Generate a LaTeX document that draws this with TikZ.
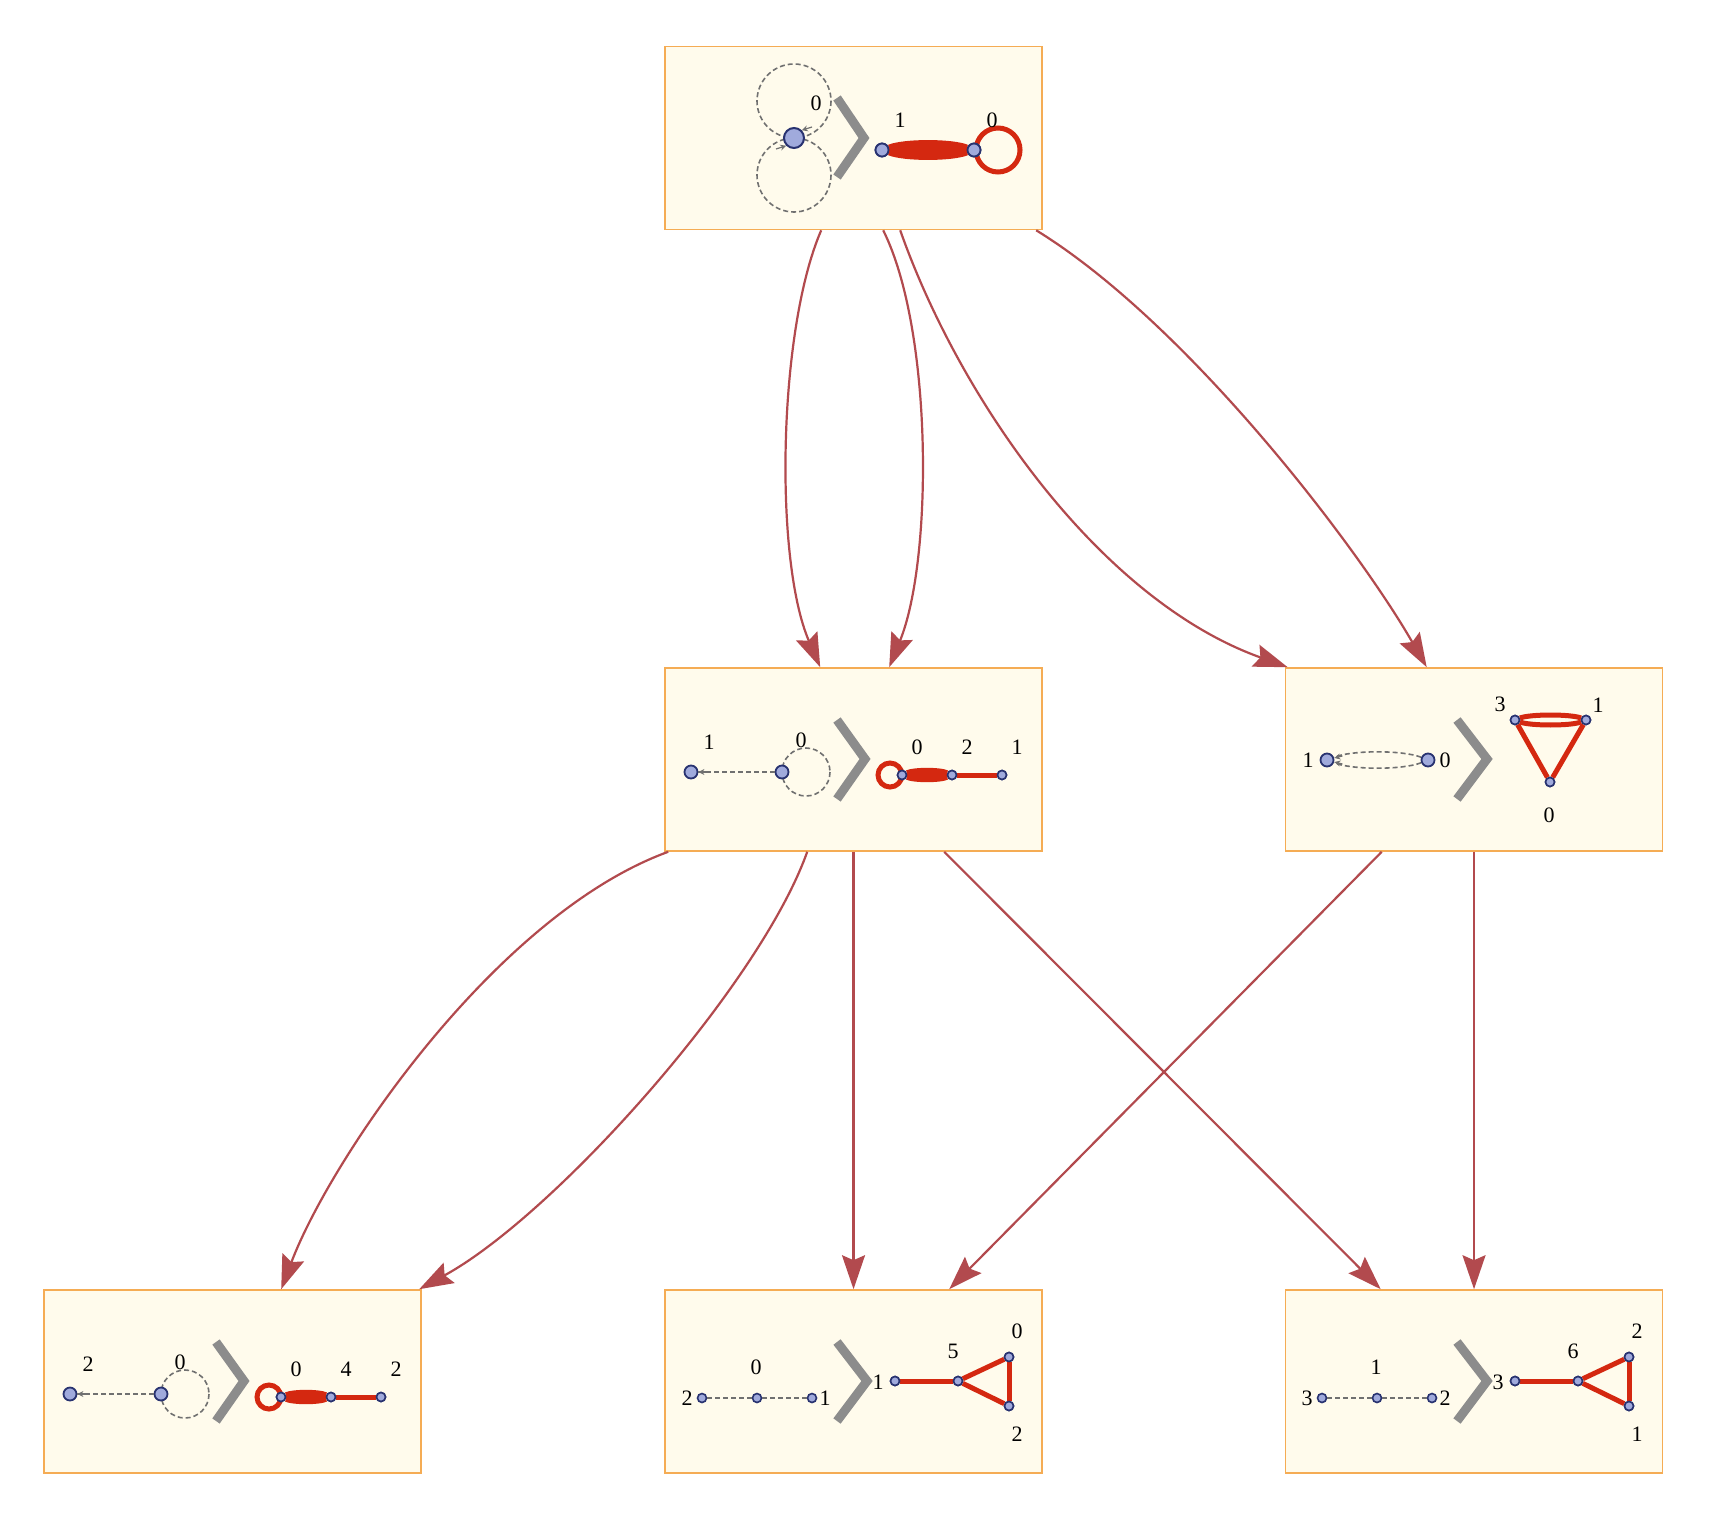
\documentclass[tikz,border=0pt]{standalone}
\usepackage{fontspec}
\setmainfont{Liberation Serif}
\usetikzlibrary{arrows.meta,calc}
\definecolor{boxfill}{RGB}{255,251,236}
\definecolor{boxline}{RGB}{245,172,84}
\definecolor{arrc}{RGB}{178,74,78}
\definecolor{redge}{RGB}{212,40,16}
\definecolor{vfill}{RGB}{160,170,220}
\definecolor{vline}{RGB}{40,50,112}
\definecolor{dgray}{RGB}{112,112,112}
\definecolor{chevc}{RGB}{140,140,140}

% left-type panel: dashed path with loop > red loop, bundle, edge
\newcommand{\LeftPanel}[6]{%
  \draw[dsh] (141,104) circle (24);
  \node[vbig] (#1a) at (26,104) {};
  \node[vbig] (#1b) at (117,104) {};
  \draw[dsh] (#1b) -- (#1a);
  \draw[tipg] ([xshift=8pt]#1a.east) -- (#1a.east);
  \node[lbl] at (44,74) {#2};
  \node[lbl] at (136,72) {#3};
  \draw[chevron] (172,52) -- (200,91) -- (172,131);
  \draw[redg] (225,107) circle (12);
  \node[vsmall] (#1c) at (237,107) {};
  \node[vsmall] (#1d) at (287,107) {};
  \node[vsmall] (#1e) at (337,107) {};
  \draw[redg] (#1c) .. controls +(12,-5.5) and +(-12,-5.5) .. (#1d);
  \draw[redg] (#1c) .. controls +(12,5.5) and +(-12,5.5) .. (#1d);
  \draw[redg] (#1c) -- (#1d);
  \draw[redg] (#1d) -- (#1e);
  \node[vsmall] at (#1c) {};
  \node[vsmall] at (#1d) {};
  \node[vsmall] at (#1e) {};
  \node[lbl] at (252,79) {#4};
  \node[lbl] at (302,79) {#5};
  \node[lbl] at (352,79) {#6};
}

% right-type panel: dashed path > tadpole triangle
\newcommand{\TriPanel}[8]{%
  \node[vsmall] (#1a) at (37,108) {};
  \node[vsmall] (#1b) at (92,108) {};
  \node[vsmall] (#1c) at (147,108) {};
  \draw[dsh] (#1a) -- (#1b);
  \draw[dsh] (#1b) -- (#1c);
  \node[lbl] at (22,108) {#2};
  \node[lbl] at (91,77) {#3};
  \node[lbl] at (160,108) {#4};
  \draw[chevron] (172,52) -- (202,91) -- (172,131);
  \node[vsmall] (#1p) at (230,91) {};
  \node[vsmall] (#1q) at (293,91) {};
  \node[vsmall] (#1r) at (344,67) {};
  \node[vsmall] (#1s) at (344,116) {};
  \draw[redg] (#1p) -- (#1q);
  \draw[redg] (#1q) -- (#1r);
  \draw[redg] (#1q) -- (#1s);
  \draw[redg] (#1r) -- (#1s);
  \node[vsmall] at (#1p) {};
  \node[vsmall] at (#1q) {};
  \node[vsmall] at (#1r) {};
  \node[vsmall] at (#1s) {};
  \node[lbl] at (213,92) {#5};
  \node[lbl] at (288,61) {#6};
  \node[lbl] at (352,41) {#7};
  \node[lbl] at (352,144) {#8};
}

\begin{document}
\begin{tikzpicture}[x=1pt,y=-1pt,
  box/.style={draw=boxline, fill=boxfill, line width=1.6pt, minimum width=377pt, minimum height=183pt, inner sep=0pt},
  conn/.style={draw=arrc, line width=2.2pt, -{Stealth[length=34pt,width=23pt,inset=5pt]}},
  vbig/.style={circle, draw=vline, fill=vfill, line width=1.8pt, minimum size=13pt, inner sep=0pt},
  vmid/.style={circle, draw=vline, fill=vfill, line width=2pt, minimum size=20pt, inner sep=0pt},
  vsmall/.style={circle, draw=vline, fill=vfill, line width=1.6pt, minimum size=9pt, inner sep=0pt},
  dsh/.style={draw=dgray, line width=1.6pt, dash pattern=on 5pt off 3pt},
  tipg/.style={draw=dgray, line width=1.2pt, -{Stealth[length=6pt,width=6pt]}},
  redg/.style={draw=redge, line width=5pt},
  chevron/.style={draw=chevc, line width=9pt, line join=miter, line cap=butt},
  lbl/.style={font=\fontsize{22}{24}\selectfont, inner sep=0pt}
]
\useasboundingbox[fill=white] (0,0) rectangle (1712,1517);

% boxes
\node[box] (T)  at (853.5,138) {};
\node[box] (ML) at (853.5,759.5) {};
\node[box] (MR) at (1474,759.5) {};
\node[box] (BL) at (232.5,1381.5) {};
\node[box] (BM) at (853.5,1381.5) {};
\node[box] (BR) at (1474,1381.5) {};

% connectors
\draw[conn] ([xshift=157pt]T.south west) .. controls (778,330) and (774,560) .. ([xshift=156pt]ML.north west);
\draw[conn] ([xshift=219pt]T.south west) .. controls (933,330) and (933,560) .. ([xshift=225pt]ML.north west);
\draw[conn] ([xshift=236pt]T.south west) .. controls (960,400) and (1100,600) .. ([xshift=3pt]MR.north west);
\draw[conn] ([xshift=372pt]T.south west) .. controls (1187,323) and (1357,546) .. ([xshift=142pt]MR.north west);
\draw[conn] ([xshift=4pt]ML.south west) .. controls (495,915) and (330,1160) .. ([xshift=238pt]BL.north west);
\draw[conn] ([xshift=143pt]ML.south west) .. controls (760,985) and (555,1215) .. ([xshift=376pt]BL.north west);
\draw[conn] (ML.south) -- (BM.north);
\draw[conn] ([xshift=280pt]ML.south west) -- ([xshift=96pt]BR.north west);
\draw[conn] ([xshift=97pt]MR.south west) -- ([xshift=285pt]BM.north west);
\draw[conn] (MR.south) -- (BR.north);

% top box content
\begin{scope}[shift={(665,46)}]
  \draw[dsh] (129,55) circle (37);
  \draw[dsh] (129,129) circle (37);
  \node[vmid] (ta) at (129,92) {};
  \draw[tipg] (147,81) -- (ta.north east);
  \draw[tipg] (111,103) -- (ta.south west);
  \node[lbl] at (151,57) {0};
  \draw[chevron] (172,52) -- (199,92) -- (172,131);
  \draw[redg] (333,104) circle (22);
  \node[vbig] (tb) at (217,104) {};
  \node[vbig] (tc) at (309,104) {};
  \draw[redg] (tb) .. controls +(22,-9) and +(-22,-9) .. (tc);
  \draw[redg] (tb) .. controls +(22,-4.5) and +(-22,-4.5) .. (tc);
  \draw[redg] (tb) -- (tc);
  \draw[redg] (tb) .. controls +(22,4.5) and +(-22,4.5) .. (tc);
  \draw[redg] (tb) .. controls +(22,9) and +(-22,9) .. (tc);
  \node[vbig] at (tb) {};
  \node[vbig] at (tc) {};
  \node[lbl] at (235,74) {1};
  \node[lbl] at (327,74) {0};
\end{scope}

% middle left
\begin{scope}[shift={(665,668)}]
  \LeftPanel{ml}{1}{0}{0}{2}{1}
\end{scope}

% bottom left
\begin{scope}[shift={(44,1290)}]
  \LeftPanel{bl}{2}{0}{0}{4}{2}
\end{scope}

% middle right
\begin{scope}[shift={(1285,668)}]
  \node[vbig] (ra) at (42,92) {};
  \node[vbig] (rb) at (143,92) {};
  \draw[dsh] (rb) .. controls +(-25,-10) and +(25,-10) .. (ra);
  \draw[dsh] (rb) .. controls +(-25,10) and +(25,10) .. (ra);
  \draw[tipg] ([xshift=8pt,yshift=-4pt]ra.east) -- ([yshift=-2pt]ra.east);
  \draw[tipg] ([xshift=8pt,yshift=4pt]ra.east) -- ([yshift=2pt]ra.east);
  \node[lbl] at (23,92) {1};
  \node[lbl] at (160,92) {0};
  \draw[chevron] (172,52) -- (202,91) -- (172,131);
  \node[vsmall] (r3) at (230,52) {};
  \node[vsmall] (r1) at (301,52) {};
  \node[vsmall] (r0) at (265,114) {};
  \draw[redg] (r3) -- (r0);
  \draw[redg] (r1) -- (r0);
  \draw[redg] (r3) .. controls +(15,-6) and +(-15,-6) .. (r1);
  \draw[redg] (r3) .. controls +(15,6) and +(-15,6) .. (r1);
  \node[vsmall] at (r3) {};
  \node[vsmall] at (r1) {};
  \node[vsmall] at (r0) {};
  \node[lbl] at (215,36) {3};
  \node[lbl] at (313,37) {1};
  \node[lbl] at (264,147) {0};
\end{scope}

% bottom middle
\begin{scope}[shift={(665,1290)}]
  \TriPanel{bm}{2}{0}{1}{1}{5}{0}{2}
\end{scope}

% bottom right
\begin{scope}[shift={(1285,1290)}]
  \TriPanel{br}{3}{1}{2}{3}{6}{2}{1}
\end{scope}
\end{tikzpicture}
\end{document}
